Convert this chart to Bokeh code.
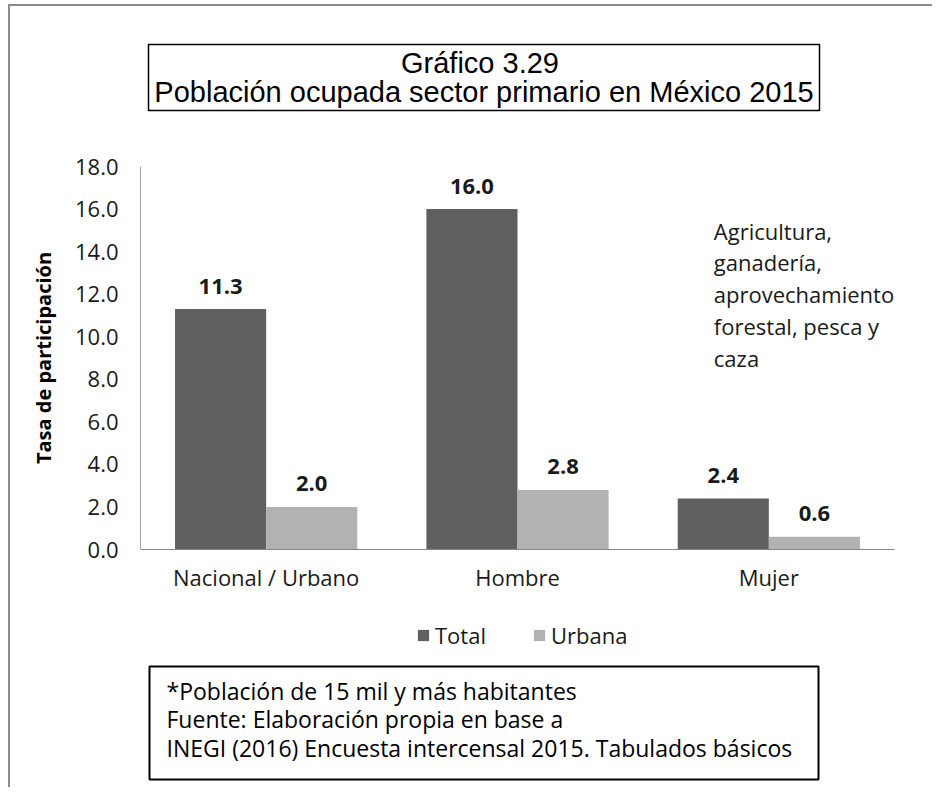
from bokeh.plotting import figure
from bokeh.models import (ColumnDataSource, FactorRange, Range1d, FixedTicker,
                          PrintfTickFormatter, Legend, LegendItem)
from bokeh.transform import dodge
from bokeh.layouts import column
from bokeh.core.properties import value
from bokeh.embed import file_html
from bokeh.resources import INLINE

# ---------------- data ----------------
categories = ["Nacional / Urbano", "Hombre", "Mujer"]
total = [11.3, 16.0, 2.4]
urbana = [2.0, 2.8, 0.6]
series_names = ["Total", "Urbana"]
y_ticks = [0, 2, 4, 6, 8, 10, 12, 14, 16, 18]
y_label = "Tasa de participación"
title_lines = ["Gráfico  3.29", "Población ocupada sector primario en México 2015"]
sector_note = " Agricultura,\nganadería,\naprovechamiento\nforestal, pesca y\ncaza"
footnote_lines = ["*Población de 15 mil y más habitantes",
                  "Fuente: Elaboración propia en base a",
                  "INEGI (2016) Encuesta intercensal 2015. Tabulados básicos"]

# ---------------- style ----------------
DARK = "#606060"
LIGHT = "#b2b2b2"
TXT = "#1a1a1a"
FONT = value("Open Sans")
W = 922
BAR_W = 0.3625
BL, BR = 130, 38          # frame borders left / right (shared by all strips)
X0, X1 = 140, 894         # page x of the frame edges

src = ColumnDataSource(dict(cat=categories, total=total, urbana=urbana,
                            total_lbl=["%.1f" % v for v in total],
                            urbana_lbl=["%.1f" % v for v in urbana]))

# ---------------- title strip ----------------
T_TOP, T_BOT = 6, 152
t = figure(width=W, height=T_BOT - T_TOP, x_range=Range1d(X0, X1),
           y_range=Range1d(T_BOT, T_TOP), toolbar_location=None,
           output_backend="svg", x_axis_type=None, y_axis_type=None,
           min_border_left=BL, min_border_right=BR, min_border_top=0,
           min_border_bottom=0, outline_line_color=None)
t.grid.visible = False
t.quad(left=[148], right=[819], top=[44], bottom=[110], fill_color=None,
       line_color="black", line_width=1.5)
t.text(x=[483.5, 483.5], y=[62, 91], text=title_lines, text_align="center",
       text_baseline="middle", text_font=value("Liberation Sans"),
       text_font_size="29px", text_color="black")

# ---------------- main chart ----------------
M_TOP, M_BOT = 152, 605
m = figure(width=W, height=M_BOT - M_TOP,
           x_range=FactorRange(*categories, range_padding=0),
           y_range=Range1d(0, 18), toolbar_location=None, output_backend="svg",
           min_border_left=BL, min_border_right=BR, min_border_top=166 - M_TOP,
           min_border_bottom=M_BOT - 549, outline_line_color=None)
m.grid.visible = False

m.vbar(x=dodge("cat", -BAR_W / 2, range=m.x_range), top="total",
       width=BAR_W, source=src, fill_color=DARK, line_color=None)
m.vbar(x=dodge("cat", BAR_W / 2, range=m.x_range), top="urbana",
       width=BAR_W, source=src, fill_color=LIGHT, line_color=None)

m.text(x=dodge("cat", -BAR_W / 2, range=m.x_range), y="total", text="total_lbl",
       source=src, text_align="center", text_baseline="middle", y_offset=-23,
       text_font=FONT, text_font_style="bold", text_font_size="22px", text_color=TXT)
m.text(x=dodge("cat", BAR_W / 2, range=m.x_range), y="urbana", text="urbana_lbl",
       source=src, text_align="center", text_baseline="middle", y_offset=-23,
       text_font=FONT, text_font_style="bold", text_font_size="22px", text_color=TXT)

m.text(x=["Mujer"], y=[15.69], text=[sector_note], x_offset=-55,
       text_align="left", text_baseline="top", text_line_height=1.06,
       text_font=FONT, text_font_size="22px", text_color=TXT)

ya = m.yaxis[0]
ya.ticker = FixedTicker(ticks=y_ticks)
ya.formatter = PrintfTickFormatter(format="%.1f")
ya.major_tick_line_color = None
ya.minor_tick_line_color = None
ya.major_tick_out = 0
ya.major_label_standoff = 22
ya.axis_line_color = "#a6a6a6"
ya.major_label_text_font = "Open Sans"
ya.major_label_text_font_size = "22px"
ya.major_label_text_color = TXT
ya.axis_label = y_label
ya.axis_label_text_font = "Open Sans"
ya.axis_label_text_font_style = "bold"
ya.axis_label_text_font_size = "20px"
ya.axis_label_text_color = "black"
ya.axis_label_standoff = 15

xa = m.xaxis[0]
xa.major_tick_line_color = None
xa.minor_tick_line_color = None
xa.major_tick_out = 0
xa.major_label_standoff = 12
xa.axis_line_color = "#868686"
xa.major_label_text_font = "Open Sans"
xa.major_label_text_font_size = "22px"
xa.major_label_text_color = TXT

# ---------------- legend + footnote strip ----------------
F_TOP, F_BOT = 605, 787
f = figure(width=W, height=F_BOT - F_TOP, x_range=Range1d(X0, X1),
           y_range=Range1d(F_BOT, F_TOP), toolbar_location=None,
           output_backend="svg", x_axis_type=None, y_axis_type=None,
           min_border_left=BL, min_border_right=BR, min_border_top=0,
           min_border_bottom=0, outline_line_color=None)
f.grid.visible = False
# zero-size swatch renderers carrying the two series' styles for the legend
lg_tot = f.vbar(x=[X0], top=[F_TOP], bottom=[F_TOP], width=0,
                fill_color=DARK, line_color=None)
lg_urb = f.vbar(x=[X0], top=[F_TOP], bottom=[F_TOP], width=0,
                fill_color=LIGHT, line_color=None)
legend = Legend(items=[LegendItem(label=series_names[0], renderers=[lg_tot]),
                       LegendItem(label=series_names[1], renderers=[lg_urb])],
                orientation="horizontal", location=(416 - X0, F_BOT - 650),
                padding=0, margin=0, spacing=46, glyph_width=14, glyph_height=14,
                label_standoff=5, border_line_color=None, background_fill_alpha=0,
                label_text_font="Open Sans", label_text_font_size="22px",
                label_text_color=TXT, click_policy="none")
f.add_layout(legend)

f.quad(left=[149], right=[818], top=[666], bottom=[779], fill_color=None,
       line_color="black", line_width=2)
f.text(x=[166, 166, 166], y=[690, 718, 747], text=footnote_lines,
       text_align="left", text_baseline="middle", text_font=FONT,
       text_font_size="23px", text_color="black")

layout = column(t, m, f, styles={"border-left": "2px solid #8c8c8c",
                                 "border-top": "2px solid #8c8c8c",
                                 "margin-left": "8px", "margin-top": "4px"})

open("out.html", "w").write(file_html(layout, INLINE))
